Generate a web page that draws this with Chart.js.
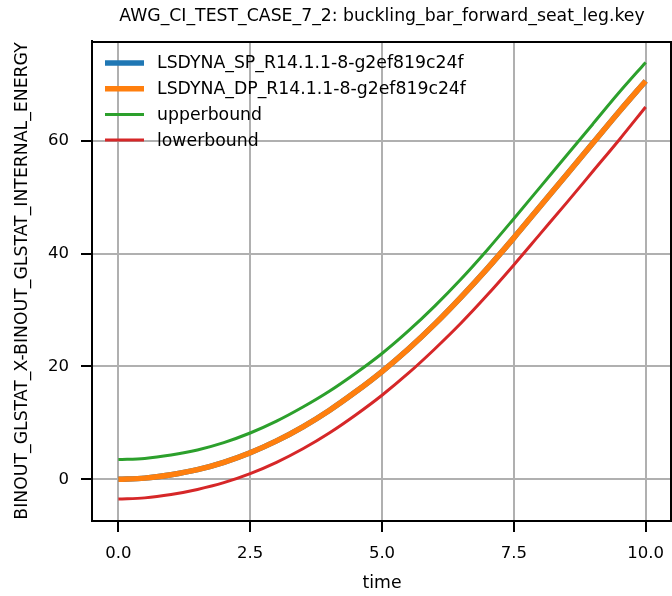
<!DOCTYPE html>
<html>
<head>
  <title>AWG_CI_TEST_CASE_7_2</title>
  <style>
      body {
          margin: 0;
          padding: 0;
          background: #ffffff;
      }
      #wrap {
          width: 672px;
          height: 596px;
      }
  </style>
</head>
<body>
  <div id="wrap"><canvas id="energyChart" width="672" height="596"></canvas></div>
  <script src="https://cdn.jsdelivr.net/npm/chart.js"></script>
  <script>
      // values
      const times = [0, 0.5, 1, 1.5, 2, 2.5, 3, 3.5, 4, 4.5, 5, 5.5, 6, 6.5, 7, 7.5, 8, 8.5, 9, 9.5, 10];
      const spEnergy = [0, 0.2, 0.8, 1.7, 3.0, 4.7, 6.8, 9.3, 12.2, 15.5, 19.1, 23.1, 27.5, 32.3, 37.4, 42.8, 48.4, 54.0, 59.6, 65.2, 70.6];
      const dpEnergy = [0, 0.2, 0.8, 1.7, 3.0, 4.7, 6.8, 9.3, 12.2, 15.5, 19.1, 23.1, 27.5, 32.3, 37.4, 42.8, 48.4, 54.0, 59.6, 65.2, 70.6];
      const upperBound = [3.5, 3.7, 4.3, 5.2, 6.5, 8.2, 10.3, 12.8, 15.6, 18.8, 22.3, 26.3, 30.7, 35.5, 40.7, 46.2, 51.8, 57.4, 63.0, 68.6, 73.9];
      const lowerBound = [-3.5, -3.3, -2.7, -1.8, -0.6, 1.0, 3.0, 5.4, 8.2, 11.4, 14.9, 18.8, 23.1, 27.7, 32.7, 38.0, 43.5, 49.0, 54.6, 60.2, 66.0];
      const xTicks = [0, 2.5, 5, 7.5, 10];
      const yTicks = [0, 20, 40, 60];

      const seriesNames = ['LSDYNA_SP_R14.1.1-8-g2ef819c24f', 'LSDYNA_DP_R14.1.1-8-g2ef819c24f', 'upperbound', 'lowerbound'];
      const seriesColors = ['#1f77b4', '#ff7f0e', '#2ca02c', '#d62728'];
      const seriesWidths = [5.5, 5.5, 3, 3];
      const seriesValues = [spEnergy, dpEnergy, upperBound, lowerBound];

      const FONT = "'DejaVu Sans', sans-serif";
      Chart.defaults.font.family = FONT;
      Chart.defaults.color = '#000';

      const toPoints = (vals) => times.map((t, i) => ({ x: t, y: vals[i] }));

      // title, legend and top/right spines like matplotlib
      const extras = {
          id: 'extras',
          afterDraw(chart) {
              const { ctx, chartArea: a } = chart;
              ctx.save();
              ctx.strokeStyle = '#000';
              ctx.lineWidth = 2;
              ctx.beginPath();
              ctx.moveTo(a.left, a.top + 1);
              ctx.lineTo(a.right - 1, a.top + 1);
              ctx.lineTo(a.right - 1, a.bottom);
              ctx.stroke();

              ctx.fillStyle = '#000';
              ctx.font = '17.3px ' + FONT;
              ctx.textAlign = 'center';
              ctx.textBaseline = 'alphabetic';
              ctx.fillText('AWG_CI_TEST_CASE_7_2: buckling_bar_forward_seat_leg.key', (a.left + a.right) / 2, 20.5);

              ctx.textAlign = 'left';
              ctx.textBaseline = 'middle';
              seriesNames.forEach((name, i) => {
                  const y = 63 + i * 25.7;
                  ctx.strokeStyle = seriesColors[i];
                  ctx.lineWidth = seriesWidths[i];
                  ctx.beginPath();
                  ctx.moveTo(105, y);
                  ctx.lineTo(144, y);
                  ctx.stroke();
                  ctx.fillText(name, 157, y + 1);
              });
              ctx.restore();
          }
      };

      const ctx = document.getElementById('energyChart').getContext('2d');
      const energyChart = new Chart(ctx, {
          type: 'line',
          data: {
              datasets: seriesNames.map((name, i) => ({
                  label: name,
                  data: toPoints(seriesValues[i]),
                  borderColor: seriesColors[i],
                  backgroundColor: seriesColors[i],
                  borderWidth: seriesWidths[i],
                  pointRadius: 0,
                  cubicInterpolationMode: 'monotone',
                  fill: false,
                  order: 4 - i
              }))
          },
          options: {
              responsive: false,
              animation: false,
              devicePixelRatio: 1,
              layout: { padding: { top: 41, right: 0, left: 0, bottom: 0 } },
              plugins: {
                  legend: { display: false },
                  tooltip: { enabled: false }
              },
              scales: {
                  x: {
                      type: 'linear',
                      min: -0.5,
                      max: 10.5,
                      afterFit: (s) => { s.height = 75; s.paddingLeft = 0; s.paddingRight = 0; },
                      afterBuildTicks: (s) => { s.ticks = xTicks.map(v => ({ value: v })); },
                      ticks: {
                          padding: 12,
                          font: { size: 16.5 },
                          color: '#000',
                          maxRotation: 0,
                          callback: (v) => v.toFixed(1)
                      },
                      grid: { color: '#b0b0b0', lineWidth: 2, tickColor: '#000', tickWidth: 2, tickLength: 11 },
                      border: { color: '#000', width: 2 },
                      title: {
                          display: true,
                          text: 'time',
                          font: { size: 17.3 },
                          color: '#000',
                          padding: { top: 0, bottom: 1.7 }
                      }
                  },
                  y: {
                      type: 'linear',
                      min: -7.4,
                      max: 77.7,
                      afterFit: (s) => { s.width = 92; s.paddingTop = 0; s.paddingBottom = 0; },
                      afterBuildTicks: (s) => { s.ticks = yTicks.map(v => ({ value: v })); },
                      ticks: {
                          padding: 12,
                          font: { size: 16.5 },
                          color: '#000'
                      },
                      grid: { color: '#b0b0b0', lineWidth: 2, tickColor: '#000', tickWidth: 2, tickLength: 11 },
                      border: { color: '#000', width: 2 },
                      title: {
                          display: true,
                          text: 'BINOUT_GLSTAT_X-BINOUT_GLSTAT_INTERNAL_ENERGY',
                          font: { size: 17.3 },
                          color: '#000',
                          padding: { top: 12.6, bottom: 0 }
                      }
                  }
              }
          },
          plugins: [extras]
      });
  </script>
</body>
</html>
